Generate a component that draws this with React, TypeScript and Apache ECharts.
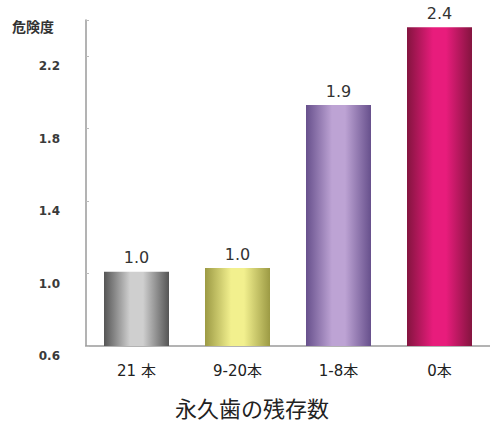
import React, { useEffect, useRef } from "react";
import * as echarts from "echarts";

const categories = ["21 本", "9-20本", "1-8本", "0本"];
const riskValues = [1.01, 1.03, 1.93, 2.36];
const valueLabels = ["1.0", "1.0", "1.9", "2.4"];
const yTicks = [0.6, 1.0, 1.4, 1.8, 2.2];
const edgeColors = ["#555555", "#9c9a44", "#67508c", "#84143f"];
const midColors = ["#cfcfcf", "#f2f08e", "#bda3d4", "#e81c7c"];

export default function App() {
  const ref = useRef<HTMLDivElement>(null);
  useEffect(() => {
    if (!ref.current) return;
    const chart = echarts.init(ref.current, null, { renderer: "svg" });
    const grad = (i: number) =>
      new echarts.graphic.LinearGradient(0, 0, 1, 0, [
        { offset: 0, color: edgeColors[i] },
        { offset: 0.4, color: midColors[i] },
        { offset: 0.6, color: midColors[i] },
        { offset: 1, color: edgeColors[i] },
      ]);
    chart.setOption({
      animation: false,
      backgroundColor: "#ffffff",
      textStyle: { fontFamily: "'DejaVu Sans', 'Noto Sans CJK JP', sans-serif" },
      grid: { left: 86, right: -12, top: 20, bottom: 77, containLabel: false },
      graphic: [
        {
          type: "text",
          left: 12,
          top: 19,
          style: {
            text: "危険度",
            font: "bold 14px 'Noto Sans CJK JP', sans-serif",
            fill: "#333",
          },
        },
        {
          type: "text",
          x: 252,
          y: 407,
          style: {
            text: "永久歯の残存数",
            font: "22px 'Noto Sans CJK JP', sans-serif",
            fill: "#222",
            textAlign: "center",
            textVerticalAlign: "middle",
          },
        },
      ],
      xAxis: {
        type: "category",
        data: categories,
        axisLine: { show: true, lineStyle: { color: "#9a9a9a", width: 1.5 } },
        axisTick: { show: false },
        axisLabel: {
          margin: 17,
          fontSize: 15,
          color: "#222",
          fontFamily: "'DejaVu Sans', 'Noto Sans CJK JP', sans-serif",
        },
      },
      yAxis: {
        type: "value",
        min: 0.6,
        max: 2.4,
        interval: 0.4,
        splitLine: { show: false },
        axisLine: { show: true, lineStyle: { color: "#9a9a9a", width: 1.5 } },
        axisTick: { show: true, inside: true, length: 3, lineStyle: { color: "#bbbbbb" } },
        axisLabel: {
          margin: 26,
          fontSize: 12,
          fontWeight: "bold",
          color: "#3a3a3a",
          verticalAlign: "top",
          padding: [4, 0, 0, 0],
          formatter: (v: number) => {
            const hit = yTicks.find((t) => Math.abs(t - v) < 1e-6);
            return hit === undefined ? "" : hit.toFixed(1);
          },
        },
      },
      series: [
        {
          type: "bar",
          barWidth: 65,
          data: riskValues.map((v, i) => ({ value: v, itemStyle: { color: grad(i) } })),
          label: {
            show: true,
            position: "top",
            distance: 6,
            fontSize: 16,
            color: "#333",
            formatter: (p: any) => valueLabels[p.dataIndex],
          },
        },
      ],
    });
    return () => chart.dispose();
  }, []);
  return (
    <div
      ref={ref}
      style={{ position: "absolute", left: 0, top: 0, width: 490, height: 423 }}
    />
  );
}
